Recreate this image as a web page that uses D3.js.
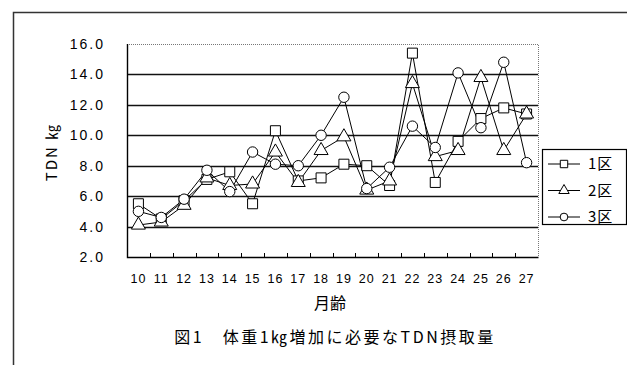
<!DOCTYPE html>
<html>
<head>
<meta charset="utf-8">
<script src="https://cdn.jsdelivr.net/npm/d3@7"></script>
<style>
  html, body { margin: 0; padding: 0; background: #fff; }
  svg { display: block; }
  text { fill: #000; }
</style>
</head>
<body>
<svg id="chart" width="627" height="365"></svg>
<script>
// Months of age (月齢)
const months = ["10","11","12","13","14","15","16","17","18","19","20","21","22","23","24","25","26","27"];

// TDN intake (kg) needed per 1 kg of weight gain, by group
const ku1 = [5.5, 4.5, 5.7, 7.1, 7.6, 5.5, 10.3, 7.0, 7.2, 8.1, 8.0, 6.7, 15.4, 6.9, 9.6, 11.1, 11.8, 11.4];
const ku2 = [4.1, 4.3, 5.4, 7.2, 6.7, 6.8, 8.9, 6.9, 9.0, 9.9, 6.4, 7.0, 13.4, 8.6, 9.0, 13.8, 9.0, 11.4];
const ku3 = [5.0, 4.6, 5.8, 7.7, 6.3, 8.9, 8.1, 8.0, 10.0, 12.5, 6.5, 7.9, 10.6, 9.2, 14.1, 10.5, 14.8, 8.2];

const seriesNames = ["1区", "2区", "3区"];
const yTicks = [2, 4, 6, 8, 10, 12, 14, 16];

const series = [
  { name: seriesNames[0], values: ku1, symbol: d3.symbolSquare },
  { name: seriesNames[1], values: ku2, symbol: d3.symbolTriangle },
  { name: seriesNames[2], values: ku3, symbol: d3.symbolCircle }
];

const svg = d3.select("#chart");
const font = "'Liberation Sans', Arial, 'Noto Sans CJK JP', sans-serif";
const jpFont = "'Noto Sans CJK JP', 'Liberation Sans', sans-serif";

// Outer frame
svg.append("rect")
  .attr("x", 13.5).attr("y", 12.5)
  .attr("width", 640).attr("height", 400)
  .attr("fill", "none").attr("stroke", "#333").attr("stroke-width", 1.5);

const plot = { left: 127, top: 44, right: 538, bottom: 257 };

const x = d3.scaleBand().domain(months).range([plot.left, plot.right]).padding(0);
const y = d3.scaleLinear().domain([2, 16]).range([plot.bottom, plot.top]);

// Horizontal gridlines
svg.append("g")
  .selectAll("line")
  .data(yTicks.filter(v => v > 2 && v < 16))
  .join("line")
  .attr("x1", plot.left).attr("x2", plot.right)
  .attr("y1", d => Math.round(y(d)) + 0.5).attr("y2", d => Math.round(y(d)) + 0.5)
  .attr("stroke", "#111").attr("stroke-width", 1.5);

// Top and right borders (dotted)
svg.append("path")
  .attr("d", `M${plot.left},${plot.top + 0.5}H${plot.right + 0.5}V${plot.bottom}`)
  .attr("fill", "none").attr("stroke", "#777").attr("stroke-width", 1)
  .attr("stroke-dasharray", "1,1");

// Y axis labels
const yAxis = d3.axisLeft(y).tickValues(yTicks).tickFormat(d3.format(".1f")).tickSize(0).tickPadding(22);
const gy = svg.append("g").attr("transform", `translate(${plot.left},0)`).call(yAxis);
gy.select(".domain").remove();
gy.selectAll("text")
  .attr("font-family", font).attr("font-size", 14).attr("letter-spacing", "2px");

// Left and bottom axis lines
svg.append("path")
  .attr("d", `M${plot.left + 0.5},${plot.top}V${plot.bottom + 0.5}H${plot.right + 0.5}`)
  .attr("fill", "none").attr("stroke", "#000").attr("stroke-width", 1.4);

// Category boundary ticks on the x axis
svg.append("g")
  .selectAll("line")
  .data(months.slice(1))
  .join("line")
  .attr("x1", d => Math.round(x(d)) + 0.5).attr("x2", d => Math.round(x(d)) + 0.5)
  .attr("y1", plot.bottom).attr("y2", plot.bottom - 4)
  .attr("stroke", "#000").attr("stroke-width", 1);

// X axis labels
const xAxis = d3.axisBottom(x).tickSize(0).tickPadding(17);
const gx = svg.append("g").attr("transform", `translate(0,${plot.bottom})`).call(xAxis);
gx.select(".domain").remove();
gx.selectAll("text")
  .attr("font-family", font).attr("font-size", 12.5).attr("letter-spacing", "1px");

// Axis titles
svg.append("text")
  .attr("transform", "translate(57,152) rotate(-90)")
  .attr("text-anchor", "middle")
  .attr("font-family", jpFont).attr("font-size", 15)
  .attr("letter-spacing", "2px")
  .text("TDN ㎏");

svg.append("text")
  .attr("x", 330).attr("y", 309)
  .attr("text-anchor", "middle")
  .attr("font-family", jpFont).attr("font-size", 16)
  .text("月齢");

// Caption
svg.append("text")
  .attr("x", 335).attr("y", 343)
  .attr("text-anchor", "middle")
  .attr("font-family", jpFont).attr("font-size", 16)
  .attr("letter-spacing", "2.5px")
  .text("図1　体重1㎏増加に必要なTDN摂取量");

// Lines
const line = d3.line()
  .x((d, i) => x(months[i]) + x.bandwidth() / 2)
  .y(d => y(d));

const gSeries = svg.append("g");
series.forEach(s => {
  gSeries.append("path")
    .datum(s.values)
    .attr("d", line)
    .attr("fill", "none").attr("stroke", "#000").attr("stroke-width", 1);
});

// Markers
function sizeOf(sym) {
  if (sym === d3.symbolSquare) return 100;
  if (sym === d3.symbolTriangle) return 85;
  return 85;
}
series.forEach(s => {
  gSeries.append("g")
    .selectAll("path")
    .data(s.values)
    .join("path")
    .attr("transform", (d, i) => `translate(${x(months[i]) + x.bandwidth() / 2},${y(d)})`)
    .attr("d", d3.symbol().type(s.symbol).size(sizeOf(s.symbol)))
    .attr("fill", "#fff").attr("stroke", "#000").attr("stroke-width", 1);
});

// Legend
const legend = svg.append("g");
legend.append("rect")
  .attr("x", 542.5).attr("y", 149.5).attr("width", 84).attr("height", 75)
  .attr("fill", "#fff").attr("stroke", "#000").attr("stroke-width", 1.2);

series.forEach((s, i) => {
  const ly = 164 + i * 26.5;
  legend.append("line")
    .attr("x1", 548).attr("x2", 580).attr("y1", ly).attr("y2", ly)
    .attr("stroke", "#000").attr("stroke-width", 1);
  legend.append("path")
    .attr("transform", `translate(564,${ly})`)
    .attr("d", d3.symbol().type(s.symbol).size(sizeOf(s.symbol) * 0.55))
    .attr("fill", "#fff").attr("stroke", "#000").attr("stroke-width", 1);
  legend.append("text")
    .attr("x", 588).attr("y", ly).attr("dy", "0.36em")
    .attr("font-family", jpFont).attr("font-size", 15)
    .attr("letter-spacing", "1px")
    .text(s.name);
});
</script>
</body>
</html>
